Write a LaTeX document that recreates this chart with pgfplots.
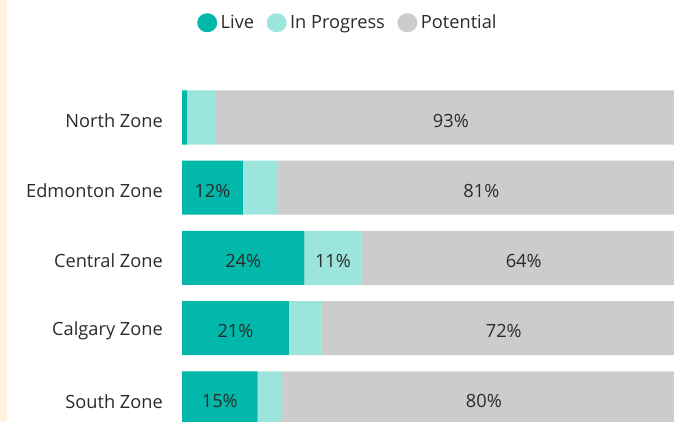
\documentclass[border=0pt]{standalone}
\usepackage{fontspec}
\setmainfont{Open Sans}
\usepackage{pgfplots}
\usepackage{pgfplotstable}
\pgfplotsset{compat=1.18}
\definecolor{live}{HTML}{01B8AA}
\definecolor{prog}{HTML}{9BE5DD}
\definecolor{pot}{HTML}{CCCCCC}
\definecolor{cream}{HTML}{FFF3DD}
\definecolor{txt}{HTML}{2B2B2B}
\pgfplotstableread{
y live prog pot
0 1.0 5.7 93.3
1 12.1 6.7 81.2
2 24.3 11.3 64.4
3 21.2 6.5 72.3
4 15.0 4.8 80.2
}\data
\newcommand{\lblfont}{\fontsize{18.3}{20}\selectfont}
\pgfplotsset{
  common/.style={
    at={(182bp,-12.4bp)}, anchor=south west,
    scale only axis, width=504bp, height=351bp,
    xmin=0, xmax=100, ymin=-0.5, ymax=4.5, y dir=reverse,
    /pgf/number format/assume math mode=true,
  },
  lbl/.style={draw=none, mark=none,
    nodes near coords={\pgfmathprintnumber[fixed,precision=0,assume math mode=true]{\pgfplotspointmeta}\%},
    point meta=explicit,
    every node near coord/.style={anchor=center, inner sep=0pt, yshift=-3bp, font=\lblfont, text=txt},
    restrict y to domain=-1:5},
}
\begin{document}
\begin{tikzpicture}[x=1bp,y=1bp]
\useasboundingbox (0,0) rectangle (674,421);
\clip (0,0) rectangle (674,421);
\fill[white] (0,0) rectangle (674,421);
\fill[cream] (0,0) rectangle (7,421);
\begin{axis}[common,
  xbar stacked, bar width=0.77,
  hide x axis,
  axis line style={draw=none},
  major tick length=0pt,
  ytick={0,1,2,3,4},
  yticklabels={North Zone, Edmonton Zone, Central Zone, Calgary Zone, South Zone},
  yticklabel style={anchor=east, inner sep=0pt, xshift=-19bp, yshift=-3bp, font=\lblfont, text=txt},
  legend style={at={(0.0298,1.170)}, anchor=west, draw=none, fill=none,
    inner sep=0pt, font=\lblfont, text=txt,
    /tikz/every odd column/.append style={column sep=2bp},
    /tikz/every even column/.append style={column sep=11bp},
    nodes={inner sep=1.5bp}},
  legend columns=-1,
  legend image code/.code={\fill[#1] (10bp,0bp) ellipse [x radius=10bp, y radius=9.5bp];},
]
\addplot[fill=live, draw=none] table[x=live, y=y]{\data};
\addplot[fill=prog, draw=none] table[x=prog, y=y]{\data};
\addplot[fill=pot, draw=none] table[x=pot, y=y]{\data};
\legend{Live, In Progress, Potential}
\end{axis}
\begin{axis}[common, hide axis]
\addplot[lbl] table[x expr=\thisrow{live}/2, y expr={\thisrow{live}<10 ? -10 : \thisrow{y}}, meta=live]{\data};
\addplot[lbl] table[x expr=\thisrow{live}+\thisrow{prog}/2, y expr={\thisrow{prog}<10 ? -10 : \thisrow{y}}, meta=prog]{\data};
\addplot[lbl] table[x expr=\thisrow{live}+\thisrow{prog}+\thisrow{pot}/2, y expr={\thisrow{pot}<10 ? -10 : \thisrow{y}}, meta=pot]{\data};
\end{axis}
\end{tikzpicture}
\end{document}
